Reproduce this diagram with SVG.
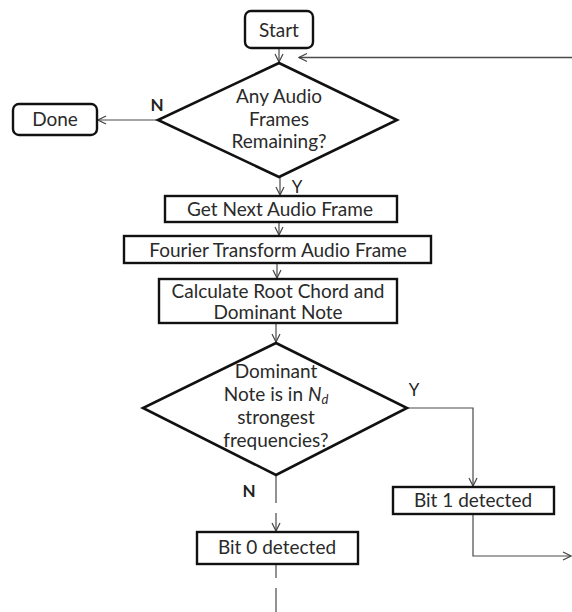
<svg xmlns="http://www.w3.org/2000/svg" width="572" height="612" viewBox="0 0 572 612">
<defs>
<marker id="arr" viewBox="0 0 10 10" refX="9" refY="5" markerWidth="10" markerHeight="10" markerUnits="userSpaceOnUse" orient="auto">
<path d="M1,1 L9,5 L1,9" fill="none" stroke="#444" stroke-width="1.2"/>
</marker>
<style>
.box{fill:#fff;stroke:#111;stroke-width:2.4}
.dia{fill:#fff;stroke:#111;stroke-width:2.6;stroke-linejoin:miter}
.t{font-family:Lato,"Liberation Sans",sans-serif;font-size:19px;fill:#2a2a2a;text-anchor:middle}
.lbl{font-family:Lato,"Liberation Sans",sans-serif;font-size:17px;fill:#222;text-anchor:middle}
.c{fill:none;stroke:#4a4a4a;stroke-width:1.2}
</style>
</defs>
<rect width="572" height="612" fill="#fff"/>
<g id="connectors">
<line class="c" x1="279" y1="48" x2="279" y2="62" marker-end="url(#arr)"/>
<line class="c" x1="572" y1="57.5" x2="299" y2="57.5" marker-end="url(#arr)" style="stroke-width:1.6"/>
<line class="c" x1="158" y1="120" x2="98" y2="120" marker-end="url(#arr)"/>
<line class="c" x1="280" y1="177" x2="280" y2="195" marker-end="url(#arr)"/>
<line class="c" x1="279" y1="223" x2="279" y2="235" marker-end="url(#arr)"/>
<line class="c" x1="277" y1="264" x2="277" y2="278" marker-end="url(#arr)"/>
<line class="c" x1="276" y1="324" x2="276" y2="342" marker-end="url(#arr)"/>
<polyline class="c" points="407,408 473,408 473,486" marker-end="url(#arr)"/>
<polyline class="c" points="473,515 473,556 571,556" marker-end="url(#arr)"/>
<line class="c" x1="276" y1="476" x2="276" y2="503"/>
<line class="c" x1="276" y1="513" x2="276" y2="531" marker-end="url(#arr)"/>
<line class="c" x1="276" y1="565" x2="276" y2="578"/>
<line class="c" x1="276" y1="588" x2="276" y2="612"/>
<text class="lbl" x="157" y="111" font-weight="bold">N</text>
<text class="lbl" x="297" y="193">Y</text>
<text class="lbl" x="414" y="396">Y</text>
<text class="lbl" x="249" y="497" font-weight="bold">N</text>
</g>
<g id="start">
<rect class="box" x="245" y="11" width="68" height="37" rx="6"/>
<text class="t" x="279" y="37">Start</text>
</g>
<g id="done">
<rect class="box" x="13" y="104" width="84" height="31" rx="6"/>
<text class="t" x="55" y="126">Done</text>
</g>
<g id="any-frames">
<polygon class="dia" points="279,63 397,120 279,177 158,120"/>
<text class="t" x="279" y="103">Any Audio</text>
<text class="t" x="279" y="126">Frames</text>
<text class="t" x="279" y="148">Remaining?</text>
</g>
<g id="get-next">
<rect class="box" x="165" y="196" width="232" height="26"/>
<text class="t" x="280" y="216">Get Next Audio Frame</text>
</g>
<g id="fourier">
<rect class="box" x="124" y="236" width="307" height="27"/>
<text class="t" x="278" y="257">Fourier Transform Audio Frame</text>
</g>
<g id="calculate">
<rect class="box" x="159" y="279" width="238" height="44"/>
<text class="t" x="278" y="298">Calculate Root Chord and</text>
<text class="t" x="278" y="319">Dominant Note</text>
</g>
<g id="dominant-check">
<polygon class="dia" points="276,343 407,408 276,475 143,408"/>
<text class="t" x="276" y="378">Dominant</text>
<text class="t" x="276" y="401">Note is in <tspan font-style="italic">N</tspan><tspan font-style="italic" font-size="13" dy="3">d</tspan></text>
<text class="t" x="276" y="424">strongest</text>
<text class="t" x="276" y="447">frequencies?</text>
</g>
<g id="bit1">
<rect class="box" x="393" y="487" width="161" height="27"/>
<text class="t" x="473" y="507">Bit 1 detected</text>
</g>
<g id="bit0">
<rect class="box" x="197" y="532" width="161" height="32"/>
<text class="t" x="277" y="554">Bit 0 detected</text>
</g>
</svg>
